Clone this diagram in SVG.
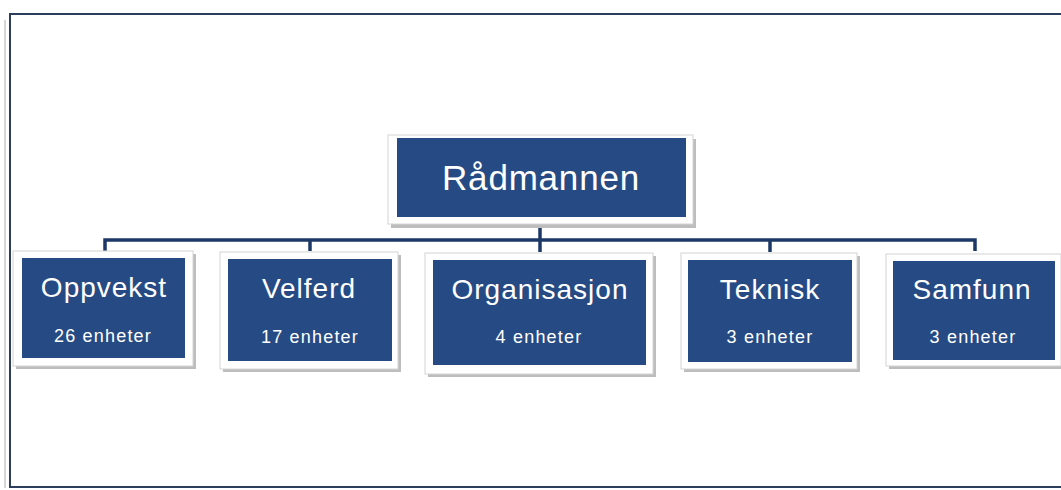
<svg xmlns="http://www.w3.org/2000/svg" width="1061" height="490" viewBox="0 0 1061 490">
<style>
.frame{fill:#ffffff;stroke:#d4d4d4;stroke-width:1}
.shadow{fill:#bdbdbd}
.box{fill:#264b84}
.t{font-family:"Liberation Sans",Arial,sans-serif;fill:#ffffff;text-anchor:middle}
.big{font-size:35px;letter-spacing:0.8px}
.title{font-size:28px;letter-spacing:1px}
.sub{font-size:18px;letter-spacing:1.2px}
.conn{stroke:#1c3866;stroke-width:3.5;fill:none}
</style>
<rect x="0" y="0" width="1061" height="490" fill="#ffffff"/>
<line x1="5" y1="20" x2="5" y2="488" stroke="#c8c8c8" stroke-width="1.5"/>
<rect x="10" y="14" width="1052" height="473" fill="none" stroke="#2c3e5c" stroke-width="2"/>
<g id="connectors">
<line class="conn" x1="540" y1="225" x2="540" y2="241"/>
<polyline class="conn" points="105,251 105,240 975,240 975,251"/>
<line class="conn" x1="310" y1="240" x2="310" y2="251"/>
<line class="conn" x1="540" y1="240" x2="540" y2="252"/>
<line class="conn" x1="770" y1="240" x2="770" y2="252"/>
</g>
<g id="radmannen">
<rect class="shadow" x="391" y="139" width="305" height="89"/>
<rect class="frame" x="388" y="135" width="305" height="89"/>
<rect class="box" x="397" y="138" width="289" height="79"/>
<text class="t big" x="541" y="190">Rådmannen</text>
</g>
<g id="oppvekst">
<rect class="shadow" x="16" y="254" width="180" height="115"/>
<rect class="frame" x="13" y="251" width="180" height="115"/>
<rect class="box" x="22" y="258" width="163" height="100"/>
<text class="t title" x="104" y="297">Oppvekst</text>
<text class="t sub" x="103" y="342">26 enheter</text>
</g>
<g id="velferd">
<rect class="shadow" x="223" y="255" width="178" height="117"/>
<rect class="frame" x="220" y="252" width="178" height="117"/>
<rect class="box" x="228" y="259" width="164" height="102"/>
<text class="t title" x="309" y="298">Velferd</text>
<text class="t sub" x="310" y="343">17 enheter</text>
</g>
<g id="organisasjon">
<rect class="shadow" x="428" y="256" width="228" height="121"/>
<rect class="frame" x="425" y="253" width="228" height="121"/>
<rect class="box" x="433" y="260" width="213" height="105"/>
<text class="t title" x="540" y="299">Organisasjon</text>
<text class="t sub" x="539" y="343">4 enheter</text>
</g>
<g id="teknisk">
<rect class="shadow" x="684" y="256" width="176" height="116"/>
<rect class="frame" x="681" y="253" width="176" height="116"/>
<rect class="box" x="688" y="260" width="164" height="102"/>
<text class="t title" x="770" y="299">Teknisk</text>
<text class="t sub" x="770" y="343">3 enheter</text>
</g>
<g id="samfunn">
<rect class="shadow" x="889" y="257" width="175" height="112"/>
<rect class="frame" x="886" y="254" width="175" height="112"/>
<rect class="box" x="893" y="261" width="162" height="99"/>
<text class="t title" x="972" y="299">Samfunn</text>
<text class="t sub" x="973" y="343">3 enheter</text>
</g>
</svg>
